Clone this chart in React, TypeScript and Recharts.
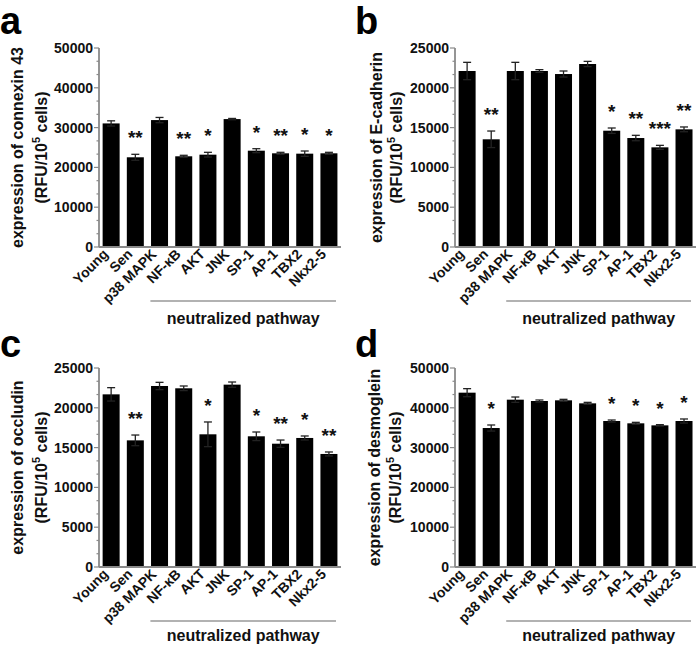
import { Bar, BarChart, ErrorBar, XAxis, YAxis } from "recharts";

const categories = ["Young", "Sen", "p38 MAPK", "NF-κB", "AKT", "JNK", "SP-1", "AP-1", "TBX2", "Nkx2-5"];

const connexinMean = [31050, 22540, 31890, 22790, 23200, 32140, 24200, 23540, 23450, 23540];
const connexinErr = [650, 750, 660, 250, 590, 160, 500, 250, 670, 250];
const connexinSig = ["", "**", "", "**", "*", "", "*", "**", "*", "*"];

const cadherinMean = [22110, 13530, 22110, 22110, 21730, 22990, 14610, 13690, 12520, 14780];
const cadherinErr = [1090, 1040, 1090, 170, 380, 330, 340, 340, 250, 300];
const cadherinSig = ["", "**", "", "", "", "", "*", "**", "***", "**"];

const occludinMean = [21690, 15910, 22740, 22450, 16670, 22910, 16420, 15490, 16210, 14200];
const occludinErr = [840, 670, 460, 290, 1550, 330, 540, 460, 250, 250];
const occludinSig = ["", "**", "", "", "*", "", "*", "**", "*", "**"];

const desmogleinMean = [43800, 34920, 42040, 41710, 41880, 41120, 36680, 36100, 35590, 36680];
const desmogleinErr = [1010, 760, 670, 250, 250, 250, 250, 250, 170, 510];
const desmogleinSig = ["", "*", "", "", "", "", "*", "*", "*", "*"];

const ticks50k = [0, 10000, 20000, 30000, 40000, 50000];
const ticks25k = [0, 5000, 10000, 15000, 20000, 25000];

const FONT = '"Liberation Sans", Arial, Helvetica, sans-serif';
const AXIS_GRAY = "#8a8a8a";
const W = 349;
const H = 323;
const PLOT_TOP = 48;
const PLOT_BOTTOM = 247;

function withMinor(major: number[]) {
  const out: number[] = [];
  for (let i = 0; i < major.length - 1; i++) {
    const step = (major[i + 1] - major[i]) / 3;
    out.push(major[i], major[i] + step, major[i] + 2 * step);
  }
  out.push(major[major.length - 1]);
  return out;
}

function YTick(props: any) {
  const { x, y, payload, major } = props;
  const axisX = x + 8;
  const isMajor = major.some((m: number) => Math.abs(m - payload.value) < 1);
  return (
    <g>
      <line x1={axisX - (isMajor ? 5 : 2.5)} x2={axisX} y1={y} y2={y} stroke={AXIS_GRAY} strokeWidth={1.2} />
      {isMajor && (
        <text x={axisX - 6} y={y} dy={5} textAnchor="end" fontSize={14} fontWeight="bold" fill="#111" fontFamily={FONT}>
          {payload.value}
        </text>
      )}
    </g>
  );
}

function XTick(props: any) {
  const { x, y, payload } = props;
  return (
    <g transform={`translate(${x - 2},${y})`}>
      <text textAnchor="end" transform="rotate(-45)" fontSize={14} fontWeight="bold" fill="#111" fontFamily={FONT}>
        {payload.value}
      </text>
    </g>
  );
}

function BarWithStar(props: any) {
  const { x, y, width, height, payload } = props;
  const errPx = payload.mean > 0 ? (payload.err * height) / payload.mean : 0;
  return (
    <g>
      <rect x={x} y={y} width={width} height={height} fill="#000" />
      {payload.sig && (
        <text x={x + width / 2} y={y - errPx - 10} textAnchor="middle" fontSize={19} fontWeight="bold" fill="#111" fontFamily={FONT}>
          {payload.sig}
        </text>
      )}
    </g>
  );
}

type PanelProps = {
  letter: string;
  title: string;
  mean: number[];
  err: number[];
  sig: string[];
  ticks: number[];
  left: number;
  top: number;
  axisLeft: number;
  rightGap: number;
  labelX1: number;
  labelX2: number;
  letterX: number;
  letterY: number;
};

function Panel(p: PanelProps) {
  const data = categories.map((name, i) => ({ name, mean: p.mean[i], err: p.err[i], sig: p.sig[i] }));
  const max = p.ticks[p.ticks.length - 1];
  const plotRight = W - p.rightGap;
  const band = (plotRight - p.axisLeft) / categories.length;
  const lineX1 = p.axisLeft + 2 * band + 3;
  const lineX2 = plotRight - 5;
  const midY = (PLOT_TOP + PLOT_BOTTOM) / 2;
  return (
    <div style={{ position: "absolute", left: p.left, top: p.top, width: W, height: H }}>
      <BarChart
        width={W}
        height={H}
        data={data}
        margin={{ top: PLOT_TOP, right: p.rightGap, bottom: 0, left: 0 }}
        barCategoryGap="15%"
      >
        <XAxis
          dataKey="name"
          interval={0}
          height={H - PLOT_BOTTOM}
          tickLine={false}
          axisLine={{ stroke: AXIS_GRAY, strokeWidth: 1.8 }}
          tick={<XTick />}
        />
        <YAxis
          width={p.axisLeft}
          domain={[0, max]}
          ticks={withMinor(p.ticks)}
          interval={0}
          tickLine={false}
          tickSize={6}
          tickMargin={2}
          axisLine={{ stroke: AXIS_GRAY, strokeWidth: 1.8 }}
          tick={<YTick major={p.ticks} />}
        />
        <Bar dataKey="mean" fill="#000" shape={<BarWithStar />} isAnimationActive={false}>
          <ErrorBar dataKey="err" direction="y" width={4} stroke="#222" strokeWidth={1.3} />
        </Bar>
      </BarChart>
      <svg width={W} height={H} style={{ position: "absolute", left: 0, top: 0, pointerEvents: "none", overflow: "visible" }}>
        <text x={p.letterX} y={p.letterY} fontSize={38} fontWeight="bold" fill="#000" fontFamily={FONT}>
          {p.letter}
        </text>
        <text
          transform={`translate(${p.labelX1},${midY}) rotate(-90)`}
          textAnchor="middle"
          dominantBaseline="central"
          fontSize={16}
          fontWeight="bold"
          fill="#111"
          fontFamily={FONT}
        >
          {p.title}
        </text>
        <text
          transform={`translate(${p.labelX2 + 6},${midY}) rotate(-90)`}
          textAnchor="middle"
          fontSize={16}
          fontWeight="bold"
          fill="#111"
          fontFamily={FONT}
        >
          (RFU/10
          <tspan dy={-7} fontSize={11}>
            5
          </tspan>
          <tspan dy={7}> cells)</tspan>
        </text>
        <line x1={lineX1} x2={lineX2} y1={301} y2={301} stroke="#999" strokeWidth={1.5} />
        <text x={(lineX1 + lineX2) / 2} y={p.top > 0 ? 321 : 324} textAnchor="middle" fontSize={16} fontWeight="bold" fill="#111" fontFamily={FONT}>
          neutralized pathway
        </text>
      </svg>
    </div>
  );
}

export default function App() {
  return (
    <div style={{ position: "absolute", left: 0, top: 0, width: 698, height: 646, background: "#fff", fontFamily: FONT }}>
      <Panel
        letter="a"
        title="expression of connexin 43"
        mean={connexinMean}
        err={connexinErr}
        sig={connexinSig}
        ticks={ticks50k}
        left={0}
        top={0}
        axisLeft={99}
        rightGap={8}
        labelX1={17}
        labelX2={41}
        letterX={0}
        letterY={34}
      />
      <Panel
        letter="b"
        title="expression of E-cadherin"
        mean={cadherinMean}
        err={cadherinErr}
        sig={cadherinSig}
        ticks={ticks25k}
        left={349}
        top={0}
        axisLeft={106}
        rightGap={2}
        labelX1={27}
        labelX2={47}
        letterX={6}
        letterY={34}
      />
      <Panel
        letter="c"
        title="expression of occludin"
        mean={occludinMean}
        err={occludinErr}
        sig={occludinSig}
        ticks={ticks25k}
        left={0}
        top={320}
        axisLeft={99}
        rightGap={8}
        labelX1={17}
        labelX2={41}
        letterX={0}
        letterY={37}
      />
      <Panel
        letter="d"
        title="expression of desmoglein"
        mean={desmogleinMean}
        err={desmogleinErr}
        sig={desmogleinSig}
        ticks={ticks50k}
        left={349}
        top={320}
        axisLeft={106}
        rightGap={2}
        labelX1={25}
        labelX2={46}
        letterX={6}
        letterY={37}
      />
    </div>
  );
}
